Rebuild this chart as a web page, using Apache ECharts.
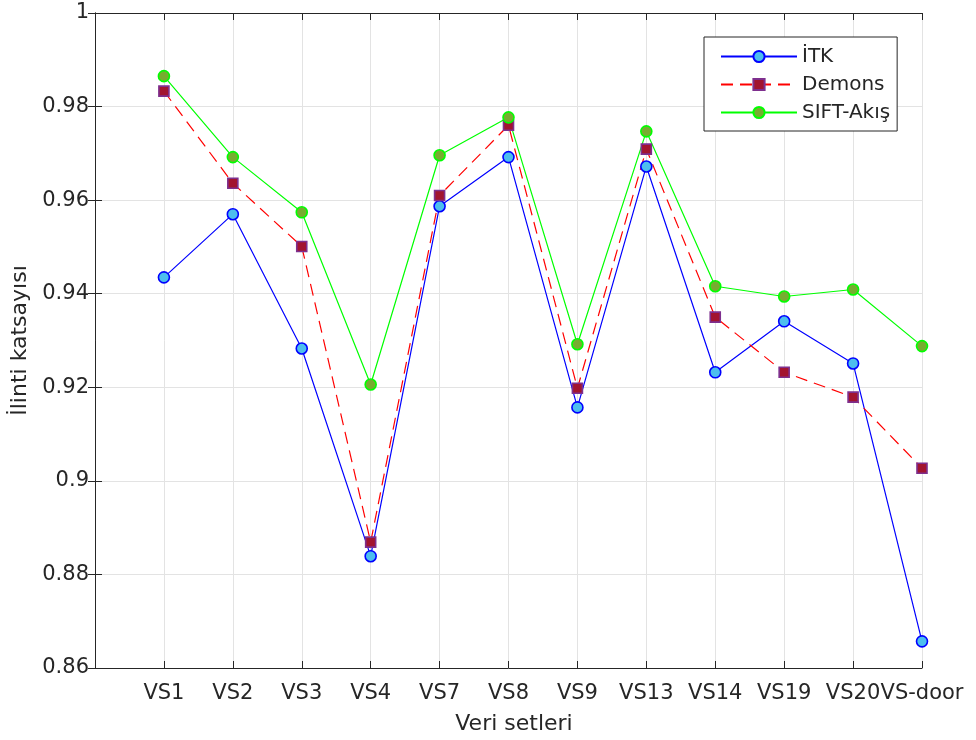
<!DOCTYPE html>
<html>
<head>
<meta charset="utf-8">
<script src="https://cdn.jsdelivr.net/npm/echarts@6/dist/echarts.min.js"></script>
<style>
  html, body { margin: 0; padding: 0; background: #fff; overflow: hidden; }
  #chart { width: 976px; height: 740px; }
</style>
</head>
<body>
<div id="chart"></div>
<script>
// Dataset names along the horizontal axis
const categories = ['VS1', 'VS2', 'VS3', 'VS4', 'VS7', 'VS8', 'VS9', 'VS13', 'VS14', 'VS19', 'VS20', 'VS-door'];

// Correlation coefficient per method
const itk    = [0.9435, 0.9570, 0.9283, 0.8839, 0.9587, 0.9692, 0.9157, 0.9672, 0.9232, 0.9341, 0.9251, 0.8657];
const demons = [0.9833, 0.9636, 0.9501, 0.8869, 0.9610, 0.9760, 0.9198, 0.9709, 0.9350, 0.9232, 0.9179, 0.9027];
const sift   = [0.9865, 0.9692, 0.9574, 0.9206, 0.9696, 0.9777, 0.9292, 0.9747, 0.9416, 0.9394, 0.9409, 0.9288];

// Y tick range
const yMin = 0.86, yMax = 1, yStep = 0.02;

const axisColor = '#262626';
const gridColor = '#e3e3e3';
const fontFamily = 'DejaVu Sans';

// Categories sit at positions 1..N on a numeric axis, so the plot starts one step left of VS1
const toPairs = vals => vals.map((v, i) => [i + 1, v]);

const chart = echarts.init(document.getElementById('chart'), null, { renderer: 'canvas' });

const xCommon = {
  type: 'value', min: 0, max: categories.length, interval: 1,
  axisLine: { show: true, lineStyle: { color: axisColor, width: 1 } },
  axisTick: { show: true, inside: true, length: 7, lineStyle: { color: axisColor } }
};
const yCommon = {
  type: 'value', min: yMin, max: yMax, interval: yStep,
  axisLine: { show: true, lineStyle: { color: axisColor, width: 1 } },
  axisTick: { show: true, inside: true, length: 7, lineStyle: { color: axisColor } }
};

chart.setOption({
  backgroundColor: '#ffffff',
  animation: false,
  textStyle: { fontFamily: fontFamily, color: axisColor },
  grid: { left: 95, right: 54, top: 13, bottom: 72, containLabel: false },
  xAxis: [
    Object.assign({}, xCommon, {
      position: 'bottom',
      name: 'Veri setleri', nameLocation: 'middle', nameGap: 45,
      nameTextStyle: { fontSize: 22, color: axisColor, fontFamily: fontFamily, padding: [0, 0, 0, 11] },
      axisLabel: {
        fontSize: 21, color: axisColor, margin: 15, fontFamily: fontFamily,
        formatter: v => (v >= 1 && v <= categories.length) ? categories[v - 1] : ''
      },
      splitLine: { show: true, lineStyle: { color: gridColor, width: 1 } }
    }),
    Object.assign({}, xCommon, {
      position: 'top',
      axisLabel: { show: false },
      splitLine: { show: false }
    })
  ],
  yAxis: [
    Object.assign({}, yCommon, {
      position: 'left',
      name: 'İlinti katsayısı', nameLocation: 'middle', nameGap: 64, nameRotate: 90,
      nameTextStyle: { fontSize: 22, color: axisColor, fontFamily: fontFamily },
      axisLabel: {
        fontSize: 21, color: axisColor, margin: 6, fontFamily: fontFamily,
        formatter: v => String(parseFloat(v.toFixed(2)))
      },
      splitLine: { show: true, lineStyle: { color: gridColor, width: 1 } }
    }),
    Object.assign({}, yCommon, {
      position: 'right',
      axisLabel: { show: false },
      splitLine: { show: false }
    })
  ],
  legend: {
    orient: 'vertical',
    left: 704, top: 37,
    padding: [8, 7, 7, 16],
    itemWidth: 76, itemHeight: 14, itemGap: 5,
    backgroundColor: '#ffffff',
    borderColor: axisColor, borderWidth: 1, borderRadius: 0,
    textStyle: { fontSize: 20, color: axisColor, fontFamily: fontFamily, lineHeight: 23 },
    data: ['İTK', 'Demons', 'SIFT-Akış']
  },
  series: [
    {
      name: 'İTK', type: 'line', data: toPairs(itk),
      symbol: 'circle', symbolSize: 11,
      lineStyle: { color: '#0000ff', width: 1.2 },
      itemStyle: { color: '#4dbeee', borderColor: '#0000ff', borderWidth: 1.6 },
      emphasis: { disabled: true }
    },
    {
      name: 'Demons', type: 'line', data: toPairs(demons),
      symbol: 'rect', symbolSize: 10,
      lineStyle: { color: '#ff0000', width: 1.2, type: [12, 7] },
      itemStyle: { color: '#a2142f', borderColor: '#7e2f8e', borderWidth: 1.6 },
      emphasis: { disabled: true }
    },
    {
      name: 'SIFT-Akış', type: 'line', data: toPairs(sift),
      symbol: 'circle', symbolSize: 11,
      lineStyle: { color: '#00ff00', width: 1.2 },
      itemStyle: { color: '#77ac30', borderColor: '#00ff00', borderWidth: 1.6 },
      emphasis: { disabled: true }
    }
  ]
});
</script>
</body>
</html>
